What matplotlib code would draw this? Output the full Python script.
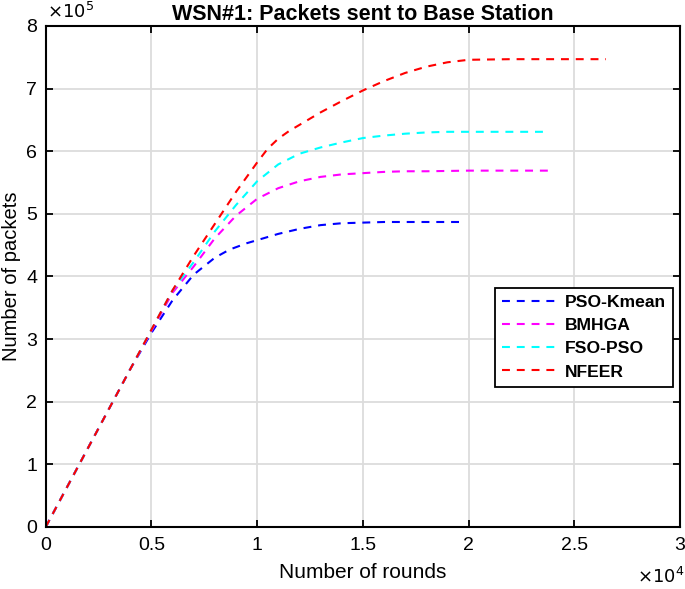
import numpy as np
import matplotlib
matplotlib.use('Agg')
import matplotlib.pyplot as plt
from matplotlib.ticker import FuncFormatter

plt.rcParams['font.family'] = ['Liberation Sans', 'DejaVu Sans']

# rounds / packets (x1e5)
rounds_kmean = [0, 1000, 2000, 3000, 4000, 5000, 6000, 7000, 8000, 8700, 9500, 10000,
                11000, 12000, 13000, 14000, 15000, 16000, 17000, 18000, 19000, 19600]
pkts_kmean = [0, 0.63, 1.26, 1.89, 2.52, 3.10, 3.62, 4.03, 4.30, 4.43, 4.53, 4.58,
              4.68, 4.76, 4.82, 4.85, 4.86, 4.87, 4.87, 4.87, 4.87, 4.87]

rounds_bmhga = [0, 1000, 2000, 3000, 4000, 5000, 6000, 7000, 8000, 9000, 10000,
                11000, 12000, 13000, 14000, 15000, 16000, 17000, 18000, 20000, 22000, 23900]
pkts_bmhga = [0, 0.63, 1.26, 1.89, 2.52, 3.13, 3.74, 4.16, 4.61, 4.97, 5.24,
              5.41, 5.52, 5.59, 5.63, 5.65, 5.67, 5.68, 5.68, 5.69, 5.69, 5.69]

rounds_fso = [0, 1000, 2000, 3000, 4000, 5000, 6000, 7000, 8000, 9000, 10000,
              11000, 12000, 13000, 14000, 15000, 16000, 17000, 18000, 19000, 21000, 23600]
pkts_fso = [0, 0.63, 1.26, 1.89, 2.52, 3.15, 3.78, 4.23, 4.72, 5.14, 5.52,
            5.79, 5.96, 6.06, 6.14, 6.21, 6.25, 6.28, 6.30, 6.31, 6.31, 6.31]

rounds_nfeer = [0, 1000, 2000, 3000, 4000, 5000, 6000, 7000, 8000, 9000, 10000,
                10500, 11000, 11500, 12000, 13000, 14000, 15000, 16000, 17000, 18000, 19000,
                20000, 22000, 24000, 26500]
pkts_nfeer = [0, 0.63, 1.26, 1.89, 2.52, 3.15, 3.78, 4.33, 4.84, 5.35, 5.82,
              6.04, 6.20, 6.32, 6.42, 6.62, 6.80, 6.97, 7.12, 7.25, 7.35, 7.42,
              7.46, 7.47, 7.47, 7.47]

fig = plt.figure(figsize=(6.85, 5.89), dpi=100)
ax = fig.add_axes([0.0667, 0.1053, 0.926, 0.8506])

series = [
    ('PSO-Kmean', rounds_kmean, pkts_kmean, '#0000ff'),
    ('BMHGA', rounds_bmhga, pkts_bmhga, '#ff00ff'),
    ('FSO-PSO', rounds_fso, pkts_fso, '#00ffff'),
    ('NFEER', rounds_nfeer, pkts_nfeer, '#ff0000'),
]
for name, xs, ys, col in series:
    ax.plot(xs, np.array(ys) * 1e5, '--', color=col, lw=1.5, dashes=(3.8, 3.3), label=name)

ax.set_xlim(0, 30000)
ax.set_ylim(0, 8e5)
ax.set_xticks(np.arange(0, 30001, 5000))
ax.set_yticks(np.arange(0, 8e5 + 1, 1e5))
ax.xaxis.set_major_formatter(FuncFormatter(lambda v, p: f'{v/1e4:g}'))
ax.yaxis.set_major_formatter(FuncFormatter(lambda v, p: f'{v/1e5:g}'))
ax.tick_params(direction='in', top=True, right=True, labelsize=14, length=5, width=1.3)
ax.tick_params(axis='x', pad=7)
ax.tick_params(axis='y', pad=6)
ax.grid(True, color='#dcdcdc', lw=1.3)
ax.set_axisbelow(True)
for s in ax.spines.values():
    s.set_linewidth(1.5)

ax.set_xlabel('Number of rounds', fontsize=15, labelpad=7)
ax.set_ylabel('Number of packets', fontsize=14.5, labelpad=4)
ax.set_title('WSN#1: Packets sent to Base Station', fontsize=15.5, fontweight='bold', pad=4)

fig.text(0.069, 0.962, r'$\times10^{5}$', fontsize=13, ha='left', va='bottom')
fig.text(0.93, 0.003, r'$\times10^{4}$', fontsize=13, ha='left', va='bottom')

leg = ax.legend(loc='upper left', bbox_to_anchor=(0.708, 0.477),
                prop={'weight': 'bold', 'size': 12.6}, fancybox=False, framealpha=1,
                edgecolor='black', handlelength=3.1, handletextpad=0.5,
                borderpad=0.4, labelspacing=0.45, borderaxespad=0)
leg.get_frame().set_linewidth(1.3)

fig.savefig('out.png', dpi=100)
